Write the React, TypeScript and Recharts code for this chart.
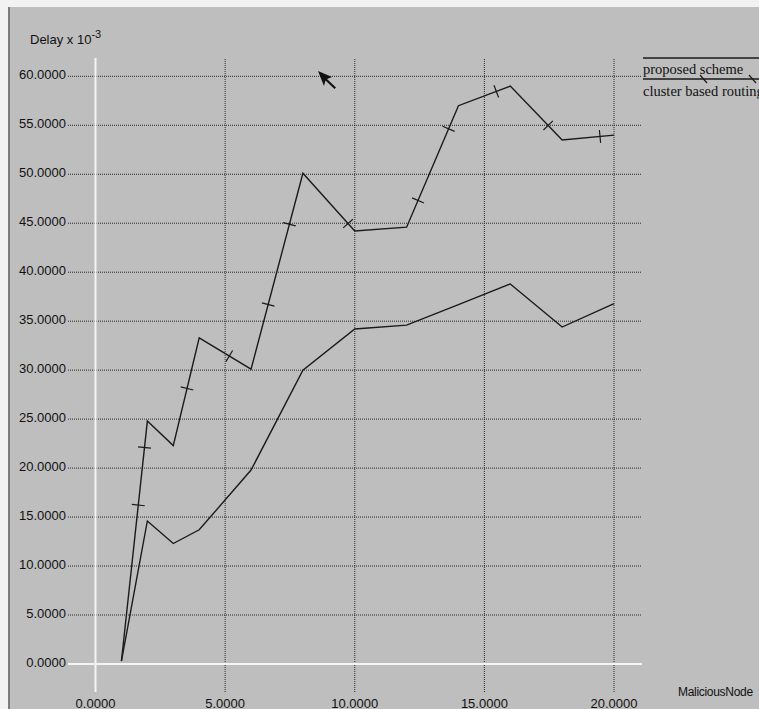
import React from "react";
import { LineChart, Line, XAxis, YAxis, ReferenceLine } from "recharts";

// Number of malicious nodes (x) and measured end-to-end delay (x 10^-3 s)
const malNodes = [1, 2, 3, 4, 6, 8, 10, 12, 14, 16, 18, 20];
const proposedDelay = [0.3, 24.8, 22.3, 33.3, 30.1, 50.1, 44.2, 44.6, 57.0, 59.0, 53.5, 54.0];
const clusterDelay = [0.3, 14.6, 12.3, 13.7, 19.8, 30.0, 34.2, 34.6, 36.7, 38.8, 34.4, 36.8];

const seriesNames = ["proposed scheme", "cluster based routing"];

const xTicks = [0, 5, 10, 15, 20];
const yTicks = [0, 5, 10, 15, 20, 25, 30, 35, 40, 45, 50, 55, 60];

// Line-style marks on the first series: segment index and fraction along it
const proposedMarks = [
  { seg: 0, t: 0.65 },
  { seg: 0, t: 0.89 },
  { seg: 2, t: 0.53 },
  { seg: 3, t: 0.58 },
  { seg: 4, t: 0.33 },
  { seg: 4, t: 0.74 },
  { seg: 5, t: 0.87 },
  { seg: 7, t: 0.22 },
  { seg: 7, t: 0.81 },
  { seg: 8, t: 0.73 },
  { seg: 9, t: 0.73 },
  { seg: 10, t: 0.73 },
];

const data = malNodes.map((x, i) => ({
  x,
  proposed: proposedDelay[i],
  cluster: clusterDelay[i],
}));

const W = 759;
const H = 709;
const BG = "#bebebe";
const INK = "#1a1a1a";
const GRID = "#2a2a2a";
const AXIS = "#f4f4f4";
const SANS = "'Liberation Sans', Arial, sans-serif";
const SERIF = "'Liberation Serif', 'DejaVu Serif', serif";

// pixel positions of already-rendered points, filled as dots are drawn in order
const seen: { x: number; y: number }[] = [];

function MarkDot(props: any) {
  const { cx, cy, index, points } = props;
  seen[index] = { x: cx, y: cy };
  const prev = points && points[index - 1] ? points[index - 1] : seen[index - 1];
  if (index === 0 || !prev) return <g />;
  const seg = index - 1;
  const ax = prev.x;
  const ay = prev.y;
  const dx = cx - ax;
  const dy = cy - ay;
  const len = Math.hypot(dx, dy) || 1;
  const nx = -dy / len;
  const ny = dx / len;
  const half = 6.5;
  return (
    <g>
      {proposedMarks
        .filter((m) => m.seg === seg)
        .map((m, k) => {
          const px = ax + dx * m.t;
          const py = ay + dy * m.t;
          return (
            <line
              key={k}
              x1={px - nx * half}
              y1={py - ny * half}
              x2={px + nx * half}
              y2={py + ny * half}
              stroke={INK}
              strokeWidth={1.2}
            />
          );
        })}
    </g>
  );
}

function YTick(props: any) {
  const { x, y, payload } = props;
  return (
    <text x={x} y={y + 3} textAnchor="end" fontFamily={SANS} fontSize={13} fill="#111">
      {Number(payload.value).toFixed(4)}
    </text>
  );
}

function XTick(props: any) {
  const { x, y, payload } = props;
  return (
    <text x={x} y={y + 16} textAnchor="middle" fontFamily={SANS} fontSize={13} fill="#111">
      {Number(payload.value).toFixed(4)}
    </text>
  );
}

export default function App() {
  return (
    <div
      style={{
        position: "absolute",
        left: 0,
        top: 0,
        width: W,
        height: H,
        background: "#f2f2f2",
        overflow: "hidden",
      }}
    >
      <div
        style={{
          position: "absolute",
          left: 8,
          top: 7,
          width: W - 8,
          height: H - 7,
          background: BG,
          borderLeft: "2px solid #7c7c7c",
          boxSizing: "border-box",
        }}
      />
      <div style={{ position: "absolute", left: 0, top: 0 }}>
        <LineChart
          width={W}
          height={H}
          data={data}
          margin={{ top: 58, right: 117, bottom: 0, left: 0 }}
        >
          <XAxis
            dataKey="x"
            type="number"
            domain={[-1.061, 21.08]}
            ticks={xTicks}
            allowDataOverflow
            height={17}
            axisLine={false}
            tickLine={false}
            tickSize={0}
            tickMargin={0}
            tick={<XTick />}
            interval={0}
          />
          <YAxis
            type="number"
            domain={[-2.86, 61.87]}
            ticks={yTicks}
            allowDataOverflow
            width={68}
            axisLine={false}
            tickLine={false}
            tickSize={0}
            tickMargin={2}
            tick={<YTick />}
            interval={0}
          />
          {/* dotted grid at every labelled value */}
          {yTicks
            .filter((v) => v !== 0)
            .map((v) => (
              <ReferenceLine key={`gy-${v}`} y={v} stroke={GRID} strokeDasharray="1 1" />
            ))}
          {xTicks
            .filter((v) => v !== 0)
            .map((v) => (
              <ReferenceLine key={`gx-${v}`} x={v} stroke={GRID} strokeDasharray="1 1" />
            ))}
          <ReferenceLine x={0} stroke={AXIS} strokeWidth={2} />
          <ReferenceLine y={0} stroke={AXIS} strokeWidth={2} />
          <Line
            dataKey="cluster"
            name={seriesNames[1]}
            stroke={INK}
            strokeWidth={1.4}
            dot={false}
            activeDot={false}
            isAnimationActive={false}
            type="linear"
          />
          <Line
            dataKey="proposed"
            name={seriesNames[0]}
            stroke={INK}
            strokeWidth={1.4}
            dot={(p: any) => <MarkDot key={`md-${p.index}`} {...p} />}
            activeDot={false}
            isAnimationActive={false}
            type="linear"
          />
        </LineChart>
      </div>
      <svg
        width={W}
        height={H}
        style={{ position: "absolute", left: 0, top: 0, pointerEvents: "none" }}
      >
        {/* axis captions */}
        <text x={30} y={44} fontFamily={SANS} fontSize={13} fill="#111">
          Delay x 10
          <tspan dy={-6} fontSize={11}>
            -3
          </tspan>
        </text>
        <text x={678} y={696} fontFamily={SANS} fontSize={12} fill="#111" letterSpacing={-0.3}>
          MaliciousNode
        </text>

        {/* legend */}
        <line x1={643} y1={58} x2={W} y2={58} stroke={INK} strokeWidth={1.4} />
        <text x={643} y={74} fontFamily={SERIF} fontSize={14.5} fill="#111">
          {seriesNames[0]}
        </text>
        <line x1={643} y1={79} x2={W} y2={79} stroke={INK} strokeWidth={1.4} />
        <line x1={700} y1={75} x2={707} y2={83} stroke={INK} strokeWidth={1.2} />
        <line x1={749} y1={75} x2={756} y2={83} stroke={INK} strokeWidth={1.2} />
        <text x={643} y={96} fontFamily={SERIF} fontSize={14.5} fill="#111">
          {seriesNames[1]}
        </text>

        {/* mouse pointer */}
        <polygon
          points="318,71 332,77 327,79 336,87.5 334.5,89 325.5,80.5 324,86"
          fill="#111"
        />
      </svg>
    </div>
  );
}
